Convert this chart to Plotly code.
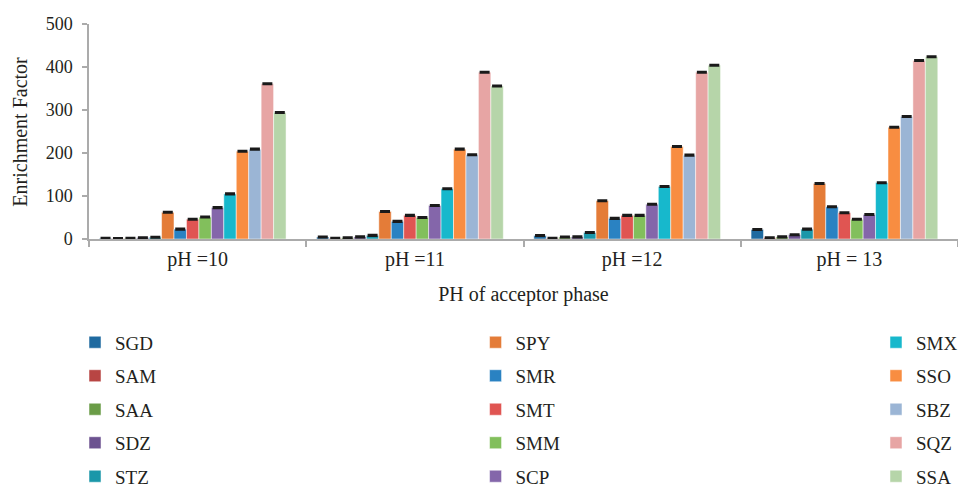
import plotly.graph_objects as go

# Acceptor-phase pH groups shown on the x axis
categories = ["pH =10", "pH =11", "pH =12", "pH = 13"]

# Analyte names, in drawing order
analytes = ["SGD", "SAM", "SAA", "SDZ", "STZ",
            "SPY", "SMR", "SMT", "SMM", "SCP",
            "SMX", "SSO", "SBZ", "SQZ", "SSA"]

# Enrichment factor per analyte at pH 10, 11, 12, 13
SGD = [1.5, 4.5, 8, 22]
SAM = [1, 1.5, 1.5, 3]
SAA = [1.5, 3, 4.5, 5]
SDZ = [3, 5, 5, 10]
STZ = [4, 8.5, 15, 23]
SPY = [62, 64, 89, 129]
SMR = [23, 41, 48, 75]
SMT = [46, 55, 55, 61]
SMM = [51, 50, 55, 46]
SCP = [73, 78, 81, 57]
SMX = [105, 117, 122, 131]
SSO = [204, 209, 215, 260]
SBZ = [209, 196, 195, 285]
SQZ = [361, 388, 388, 415]
SSA = [294, 356, 404, 424]

values = {"SGD": SGD, "SAM": SAM, "SAA": SAA, "SDZ": SDZ, "STZ": STZ,
          "SPY": SPY, "SMR": SMR, "SMT": SMT, "SMM": SMM, "SCP": SCP,
          "SMX": SMX, "SSO": SSO, "SBZ": SBZ, "SQZ": SQZ, "SSA": SSA}

# Standard deviation shown as the error cap on each bar
error_sd = [1.0, 1.0, 1.0, 1.0]

colors = {
    "SGD": "#1f6aa0", "SAM": "#b84543", "SAA": "#6a9c47", "SDZ": "#6c5290",
    "STZ": "#1a97a9", "SPY": "#e47c38", "SMR": "#2a82c2", "SMT": "#e05552",
    "SMM": "#82bf5c", "SCP": "#8466aa", "SMX": "#17b8cc", "SSO": "#f88d41",
    "SBZ": "#9bb5d5", "SQZ": "#e7a5a4", "SSA": "#b6d5a9",
}

FONT = "Liberation Serif"
TEXT = "#231f20"
AXIS = "#ababab"

# Bar slot geometry within each category (category width = 1)
BAR_W = 0.0573
FIRST_OFFSET = -0.4525

legend_ids = ["legend", "legend2", "legend3"]

fig = go.Figure()
for i, name in enumerate(analytes):
    fig.add_trace(go.Bar(
        name=name,
        x=categories,
        y=values[name],
        width=BAR_W,
        offset=FIRST_OFFSET + i * BAR_W,
        marker=dict(color=colors[name], line=dict(color="white", width=0.5)),
        error_y=dict(type="data", array=error_sd, symmetric=True,
                     color="#1a1a1a", thickness=2.2, width=5),
        legend=legend_ids[i // 5],
        legendgroup=name,
    ))

# Three legend columns of five entries, placed in container coordinates
legend_common = dict(
    orientation="v",
    font=dict(family=FONT, size=19, color=TEXT),
    bgcolor="rgba(0,0,0,0)",
    itemwidth=30,
    tracegroupgap=5.8,
    xref="container",
    yref="container",
    xanchor="left",
    yanchor="top",
    y=0.3387,
)

fig.update_layout(
    width=958,
    height=489,
    margin=dict(l=89, r=0, t=23.5, b=249.7, autoexpand=False),
    paper_bgcolor="white",
    plot_bgcolor="white",
    barmode="group",
    font=dict(family=FONT, color=TEXT),
    legend=dict(legend_common, x=0.0783),
    legend2=dict(legend_common, x=0.4964),
    legend3=dict(legend_common, x=0.9144),
    xaxis=dict(
        showline=True, linecolor=AXIS, linewidth=1.5,
        ticks="outside", tickson="boundaries", ticklen=6, tickcolor=AXIS,
        tickwidth=1.5, ticklabelstandoff=1,
        tickfont=dict(family=FONT, size=20, color=TEXT),
        title=dict(text="PH of acceptor phase",
                   font=dict(family=FONT, size=20, color=TEXT), standoff=17),
        showgrid=False, zeroline=False,
    ),
    yaxis=dict(
        range=[0, 500], dtick=100,
        showline=True, linecolor=AXIS, linewidth=1.5,
        ticks="outside", ticklen=5, tickcolor=AXIS, tickwidth=1.5,
        ticklabelstandoff=6,
        tickfont=dict(family=FONT, size=18, color=TEXT),
        showgrid=False, zeroline=False,
    ),
    annotations=[dict(
        text="Enrichment Factor", textangle=-90,
        xref="paper", yref="paper", x=-0.0804, y=0.5,
        xanchor="center", yanchor="middle", showarrow=False,
        font=dict(family=FONT, size=20, color=TEXT),
    )],
)

fig.write_html("out.html")
